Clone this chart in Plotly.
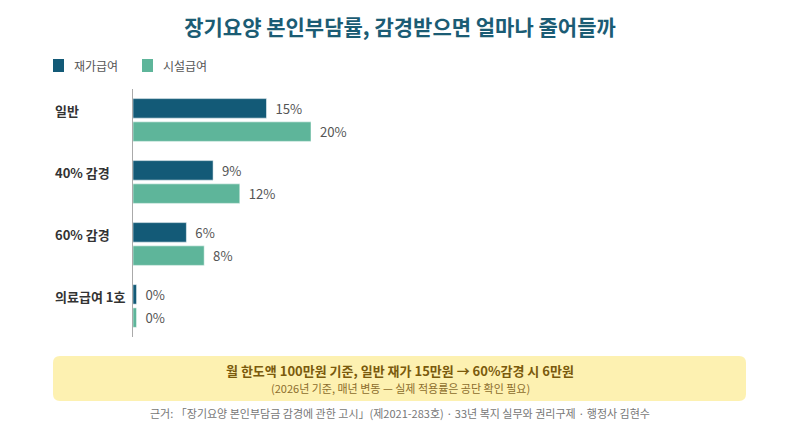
import plotly.graph_objects as go

# ---- data ----
categories = ["일반", "40% 감경", "60% 감경", "의료급여 1호"]
home_care = [15, 9, 6, 0]        # 재가급여 (%)
facility_care = [20, 12, 8, 0]   # 시설급여 (%)
series_names = ["재가급여", "시설급여"]
title_text = "장기요양 본인부담률, 감경받으면 얼마나 줄어들까"
note_main = "월 한도액 100만원 기준, 일반 재가 15만원 → 60%감경 시 6만원"
note_sub = "(2026년 기준, 매년 변동 — 실제 적용률은 공단 확인 필요)"
source_text = "근거: 「장기요양 본인부담금 감경에 관한 고시」(제2021-283호) · 33년 복지 실무와 권리구제 · 행정사 김현수"

# ---- style ----
FONT = "Noto Sans CJK KR"
DARK = "#135a77"
LIGHT = "#5eb59a"
COLORS = [DARK, LIGHT]
W, H = 800, 427
ML, MR, MT, MB = 133, 44, 89, 90
PW, PH = W - ML - MR, H - MT - MB
MIN_VIS = 0.4  # minimum visible bar length for zero values


def px_x(px):
    return (px - ML) / PW


def px_y(py):
    return (H - MB - py) / PH


fig = go.Figure()
for name, vals, color in zip(series_names, [home_care, facility_care], COLORS):
    fig.add_trace(go.Bar(
        y=categories,
        x=[max(v, MIN_VIS) for v in vals],
        name=name,
        orientation="h",
        marker=dict(color=color, line=dict(color="rgba(255,255,255,0.5)", width=1)),
        text=[f"{v}%" for v in vals],
        texttemplate="\u00a0\u00a0%{text}",
        textposition="outside",
        textfont=dict(family=FONT, size=13.5, color="#555555"),
        cliponaxis=False,
        showlegend=False,
        hovertemplate="%{y}: %{text}<extra>" + name + "</extra>",
    ))

annotations = []
shapes = []
# category labels (left aligned)
for c in categories:
    annotations.append(dict(
        x=px_x(53), xref="paper", xanchor="left",
        y=c, yref="y", yanchor="middle", yshift=10,
        text=f"<b>{c}</b>", showarrow=False,
        font=dict(family=FONT, size=13, color="#333333"),
    ))

# custom legend
legend_x = [53, 142]
for lx, name, color in zip(legend_x, series_names, COLORS):
    shapes.append(dict(type="rect", xref="paper", yref="paper",
                       x0=px_x(lx), x1=px_x(lx + 11),
                       y0=px_y(72), y1=px_y(59),
                       fillcolor=color, line=dict(width=0)))
    annotations.append(dict(
        x=px_x(lx + 19), xref="paper", xanchor="left",
        y=px_y(65.5), yref="paper", yanchor="middle",
        text=name, showarrow=False,
        font=dict(family=FONT, size=12, color="#555555"),
    ))

# note box texts
annotations.append(dict(
    x=px_x(400), xref="paper", xanchor="center",
    y=px_y(370), yref="paper", yanchor="middle",
    text=f"<b>{note_main}</b>", showarrow=False,
    font=dict(family=FONT, size=13, color="#7a5a0c"),
))
annotations.append(dict(
    x=px_x(400), xref="paper", xanchor="center",
    y=px_y(388), yref="paper", yanchor="middle",
    text=note_sub, showarrow=False,
    font=dict(family=FONT, size=11, color="#8c6d2c"),
))
annotations.append(dict(
    x=px_x(400), xref="paper", xanchor="center",
    y=px_y(413), yref="paper", yanchor="middle",
    text=source_text, showarrow=False,
    font=dict(family=FONT, size=11, color="#777777"),
))

# rounded note box
x0, x1 = px_x(53), px_x(746)
y0, y1 = px_y(401), px_y(356)
rx, ry = 7 / PW, 7 / PH
path = (f"M{x0+rx},{y0} L{x1-rx},{y0} Q{x1},{y0} {x1},{y0+ry} "
        f"L{x1},{y1-ry} Q{x1},{y1} {x1-rx},{y1} "
        f"L{x0+rx},{y1} Q{x0},{y1} {x0},{y1-ry} "
        f"L{x0},{y0+ry} Q{x0},{y0} {x0+rx},{y0} Z")
shapes.append(dict(type="path", xref="paper", yref="paper", path=path,
                   fillcolor="#fdf1b1", line=dict(width=0), layer="below"))

fig.update_layout(
    width=W, height=H,
    margin=dict(l=ML, r=MR, t=MT, b=MB),
    paper_bgcolor="white", plot_bgcolor="white",
    font=dict(family=FONT, color="#555555"),
    title=dict(text=f"<b>{title_text}</b>", x=0.5, xref="container",
               xanchor="center", y=1 - 28 / H, yref="container",
               yanchor="middle",
               font=dict(family=FONT, size=21, color="#1b5c74")),
    barmode="group",
    bargap=0.25,
    bargroupgap=0.16,
    showlegend=False,
    xaxis=dict(range=[0, 70], visible=False, fixedrange=True),
    yaxis=dict(categoryorder="array", categoryarray=categories,
               autorange="reversed", showticklabels=False, showgrid=False,
               zeroline=False, showline=True, linecolor="#aaaaaa",
               linewidth=1, ticks="", fixedrange=True),
    annotations=annotations,
    shapes=shapes,
)

fig.write_html(
    "out.html",
    config={"displayModeBar": False},
    post_script="document.body.style.margin='0';document.body.style.padding='0';",
)
